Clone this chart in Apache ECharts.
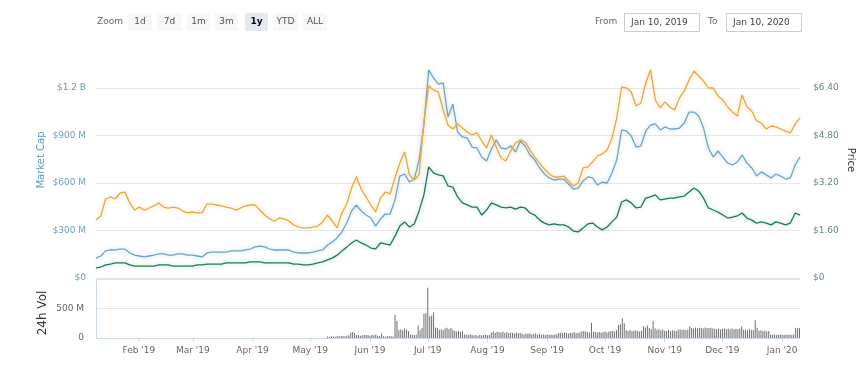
<!DOCTYPE html>
<html><head><meta charset="utf-8">
<script src="https://cdn.jsdelivr.net/npm/echarts@6/dist/echarts.min.js"></script>
<style>html,body{margin:0;padding:0;background:#fff}#c{width:865px;height:369px}</style>
</head><body><div id="c"></div>
<script>
const START_DATE = '2019-01-10';
const END_DATE = '2020-01-10';
const SAMPLE_HOURS = 60;
const VOLUME_START_DATE = '2019-05-08';

// Market cap, millions USD (every 60 h from Jan 10, 2019)
const marketCapM = [126,139,171,177,177,183,183,158,145,139,
133,139,145,152,152,145,145,152,152,145,
145,139,133,158,164,164,164,164,171,171,
171,177,183,196,202,196,183,177,177,177,
177,164,158,158,158,164,171,177,208,227,
253,291,347,423,461,423,398,379,328,373,
404,404,493,644,657,606,625,745,966,1314,
1263,1225,1232,1017,1099,922,891,884,827,821,
764,739,815,872,821,815,834,796,865,834,
777,745,695,657,632,619,625,625,594,562,
568,613,638,632,587,606,600,663,745,935,
928,897,827,834,928,966,973,935,954,941,
941,947,979,1048,1048,1023,947,821,764,802,
764,726,714,733,777,726,695,644,670,651,
632,657,644,625,632,714,764];

// Price, USD
const priceUsd = [0.34,0.37,0.44,0.47,0.51,0.51,0.51,0.44,0.40,0.40,
0.40,0.40,0.40,0.44,0.44,0.44,0.40,0.40,0.40,0.40,
0.40,0.44,0.44,0.47,0.47,0.47,0.47,0.51,0.51,0.51,
0.51,0.51,0.54,0.54,0.54,0.51,0.51,0.51,0.51,0.51,
0.51,0.47,0.47,0.44,0.44,0.47,0.51,0.54,0.61,0.67,
0.77,0.91,1.04,1.18,1.28,1.18,1.11,1.01,0.98,1.18,
1.15,1.11,1.41,1.75,1.89,1.72,1.82,2.26,2.80,3.74,
3.54,3.47,3.44,3.10,3.06,2.73,2.53,2.46,2.39,2.39,
2.12,2.29,2.53,2.46,2.39,2.36,2.39,2.32,2.39,2.36,
2.19,2.12,1.95,1.85,1.79,1.82,1.79,1.79,1.72,1.58,
1.55,1.68,1.82,1.85,1.72,1.62,1.72,1.89,2.05,2.56,
2.63,2.53,2.36,2.39,2.69,2.73,2.80,2.63,2.66,2.69,
2.69,2.73,2.76,2.90,3.03,2.93,2.69,2.36,2.29,2.22,
2.12,2.02,2.05,2.09,2.19,2.02,1.95,1.85,1.89,1.85,
1.79,1.89,1.85,1.79,1.85,2.19,2.12];

// Price, satoshi (BTC), hidden axis
const priceBtcSats = [36600,39200,49900,51200,49900,53700,54300,47400,42900,44800,
42900,44200,45500,47400,44800,44200,44800,44200,42300,41100,
41700,41100,41100,46700,46700,46100,45500,44800,44200,42900,
44200,45500,46100,46100,42900,39800,37300,36000,37900,37300,
36000,33500,32200,31600,31600,32200,32800,35400,39800,36000,
31600,41100,46700,56800,63800,56200,51200,46100,41700,50500,
54300,53100,63200,72600,79600,65100,61900,65100,98500,121300,
118700,117500,106100,96600,94100,97300,94700,92200,90300,91600,
86500,82100,90300,82700,75800,73900,80200,85300,87200,85900,
80800,76400,72600,68800,65700,63800,63800,64400,61300,58100,
60000,69500,70100,73300,77100,78300,80800,88400,101100,120600,
120000,117500,108600,110500,123200,131400,112400,107400,111200,108000,
106100,113700,118100,125100,130700,127600,124400,120000,120000,115000,
112400,108000,104800,102300,115600,108000,105500,99200,97900,94100,
96000,95400,94100,92800,91600,97300,101100];

// 24h volume, millions USD, daily from May 8, 2019
const volume24hM = [0,0, 25,20,30,25,20, 35,30,40,35,30,40,45, 90,100,85,
45,50,40,45,50,55,45,40,50,45,60,40,35, 80, 30,25,30,35,30,25,
390,290,130, 150,130,160, 140,120, 55,60,50,55, 210,130,170,
410,420,850,370,380,430,180,170, 140,150,130, 160,175,150,170,140,
120,110,125,100,115, 60,55,50,65,55, 45,50,40,55,45,50,60,45,50,
95,110,90,105,100,95,110,85,100, 80,90,85,75,95,80,85,
70,65,75,70,80,65,70,75,60,70, 55,60,50,65,55,60,50,60,65,
85,90,80,95,85,75,90,85,100,80,90,95, 115,120,110,100,95, 260, 110,
100,95,105,90,100,110,95,105, 115,120,110,130, 220,240, 330, 250,
130,120,135,115,125,130,120,110,125, 200,180,210,170, 150, 290, 160,
140,150,130,145, 125,120,135,115,130,125,120, 140,150,135,145,130,140, 200,
170,160,180,165,175,170,160,180,170,165,175,160,
155,150,160,145,155,165,150,155,145,160,150,155,150,160, 200,
140,145,130,150,140,135, 300, 170, 125,130,120,125,115,120,
60,55,60,50,55,60,55,50,60,55,50,55,60, 170,175,165];

const mcapTicks = ['$0','$300 M','$600 M','$900 M','$1.2 B'];
const priceTicks = ['$0','$1.60','$3.20','$4.80','$6.40'];
const volTicks = ['0','500 M'];
const monthNames = ['Jan','Feb','Mar','Apr','May','Jun','Jul','Aug','Sep','Oct','Nov','Dec'];
const zoomButtons = ['1d','7d','1m','3m','1y','YTD','ALL'];
const selectedButton = '1y';
const fromText = 'Jan 10, 2019';
const toText = 'Jan 10, 2020';

const DAY = 86400000;
const t0 = Date.parse(START_DATE + 'T00:00:00Z');
const t1 = Date.parse(END_DATE + 'T00:00:00Z');
const tv = Date.parse(VOLUME_START_DATE + 'T00:00:00Z');
const step = SAMPLE_HOURS * 3600000;
const pairs = arr => arr.map((v, i) => [t0 + i * step, v]);
const volPairs = volume24hM.map((v, i) => [tv + i * DAY, v]);

const FONT = '"DejaVu Sans", sans-serif';
const chart = echarts.init(document.getElementById('c'), null, {renderer: 'canvas'});

const btnX = [128,157,187,215,245,273,303];
const btnW = [24,25,23,23,23,25,24];
const graphics = [];
graphics.push({type:'text', x:97, y:22, style:{text:'Zoom', fill:'#666', font:'9px ' + FONT, align:'left', verticalAlign:'middle'}});
zoomButtons.forEach((b, i) => {
  const sel = b === selectedButton;
  graphics.push({type:'rect', x:btnX[i], y:13, shape:{width:btnW[i], height:18, r:2}, style:{fill: sel ? '#e4e8f0' : '#f7f7f7'}});
  graphics.push({type:'text', x:btnX[i] + btnW[i]/2, y:22, style:{text:b, fill: sel ? '#000' : '#555', font:(sel ? 'bold ' : '') + '9px ' + FONT, align:'center', verticalAlign:'middle'}});
});
graphics.push({type:'text', x:595, y:22, style:{text:'From', fill:'#666', font:'9px ' + FONT, align:'left', verticalAlign:'middle'}});
graphics.push({type:'rect', x:624.5, y:13.5, shape:{width:75, height:18}, style:{fill:'#fff', stroke:'#ccc', lineWidth:1}});
graphics.push({type:'text', x:631, y:22.5, style:{text:fromText, fill:'#444', font:'9px ' + FONT, align:'left', verticalAlign:'middle'}});
graphics.push({type:'text', x:708, y:22, style:{text:'To', fill:'#666', font:'9px ' + FONT, align:'left', verticalAlign:'middle'}});
graphics.push({type:'rect', x:726.5, y:13.5, shape:{width:75, height:18}, style:{fill:'#fff', stroke:'#ccc', lineWidth:1}});
graphics.push({type:'text', x:733, y:22.5, style:{text:toText, fill:'#444', font:'9px ' + FONT, align:'left', verticalAlign:'middle'}});
graphics.push({type:'text', x:41, y:160, rotation:Math.PI/2, style:{text:'Market Cap', fill:'#5b9ac3', font:'10px ' + FONT, align:'center', verticalAlign:'middle'}});
graphics.push({type:'text', x:851, y:160, rotation:-Math.PI/2, style:{text:'Price', fill:'#333', font:'10px ' + FONT, align:'center', verticalAlign:'middle'}});
graphics.push({type:'text', x:43, y:313, rotation:Math.PI/2, style:{text:'24h Vol', fill:'#333', font:'12px ' + FONT, align:'center', verticalAlign:'middle'}});

const lineSeries = (name, data, yIdx, color, shadow) => ({
  name, type:'line', data, xAxisIndex:0, yAxisIndex:yIdx, showSymbol:false, symbol:'none',
  lineStyle:{color, width:1.3, shadowColor:shadow, shadowBlur:4}, itemStyle:{color}, silent:true
});

chart.setOption({
  animation:false,
  useUTC:true,
  backgroundColor:'#fff',
  textStyle:{fontFamily:FONT},
  graphic:graphics,
  grid:[
    {left:96, right:65, top:40.5, height:237.5},
    {left:96, right:65, top:279, height:59}
  ],
  xAxis:[
    {type:'time', gridIndex:0, min:t0, max:t1, show:false},
    {type:'time', gridIndex:1, min:t0, max:t1, minInterval:28*DAY, maxInterval:31*DAY, splitNumber:12,
     axisLine:{show:true, lineStyle:{color:'#ccd6eb'}},
     axisTick:{show:true, length:4, lineStyle:{color:'#ccd6eb'}},
     minorTick:{show:false},
     splitLine:{show:false},
     axisLabel:{color:'#666', fontSize:9, fontFamily:FONT, margin:8, hideOverlap:false, interval:0,
       formatter: v => { const d = new Date(v); return monthNames[d.getUTCMonth()] + " '" + String(d.getUTCFullYear()).slice(2); }}}
  ],
  yAxis:[
    {type:'value', gridIndex:0, position:'left', min:0, max:1500, interval:300,
     axisLine:{show:false}, axisTick:{show:false},
     axisLabel:{color:'#6f9db8', fontSize:9, fontFamily:FONT, margin:10, showMaxLabel:false,
       formatter: v => mcapTicks[Math.round(v/300)] || ''},
     splitLine:{show:true, showMaxLine:false, lineStyle:{color:'#e6e6e6'}}},
    {type:'value', gridIndex:0, position:'right', min:0, max:8, interval:1.6,
     axisLine:{show:false}, axisTick:{show:false}, splitLine:{show:false},
     axisLabel:{color:'#5f8a7d', fontSize:9, fontFamily:FONT, margin:13, showMaxLabel:false,
       formatter: v => priceTicks[Math.round(v/1.6)] || ''}},
    {type:'value', gridIndex:0, min:0, max:150000, show:false, splitLine:{show:false}},
    {type:'value', gridIndex:1, position:'left', min:0, max:1000, interval:500,
     axisLine:{show:true, lineStyle:{color:'#ccd6eb'}}, axisTick:{show:false},
     axisLabel:{color:'#666', fontSize:9, fontFamily:FONT, margin:12, showMaxLabel:false,
       formatter: v => volTicks[Math.round(v/500)] || ''},
     splitLine:{show:true, lineStyle:{color:'#e6e6e6'}}}
  ],
  series:[
    lineSeries('Market Cap', pairs(marketCapM), 0, '#6fa3c4', 'rgba(111,163,196,0.45)'),
    lineSeries('Price (USD)', pairs(priceUsd), 1, '#1b7a5b', 'rgba(27,122,91,0.35)'),
    lineSeries('Price (BTC)', pairs(priceBtcSats), 2, '#eaa83c', 'rgba(234,168,60,0.45)'),
    {name:'24h Vol', type:'bar', data:volPairs, xAxisIndex:1, yAxisIndex:3, barWidth:1,
     itemStyle:{color:'#6e6e6e'}, silent:true}
  ]
});
</script>
</body></html>
